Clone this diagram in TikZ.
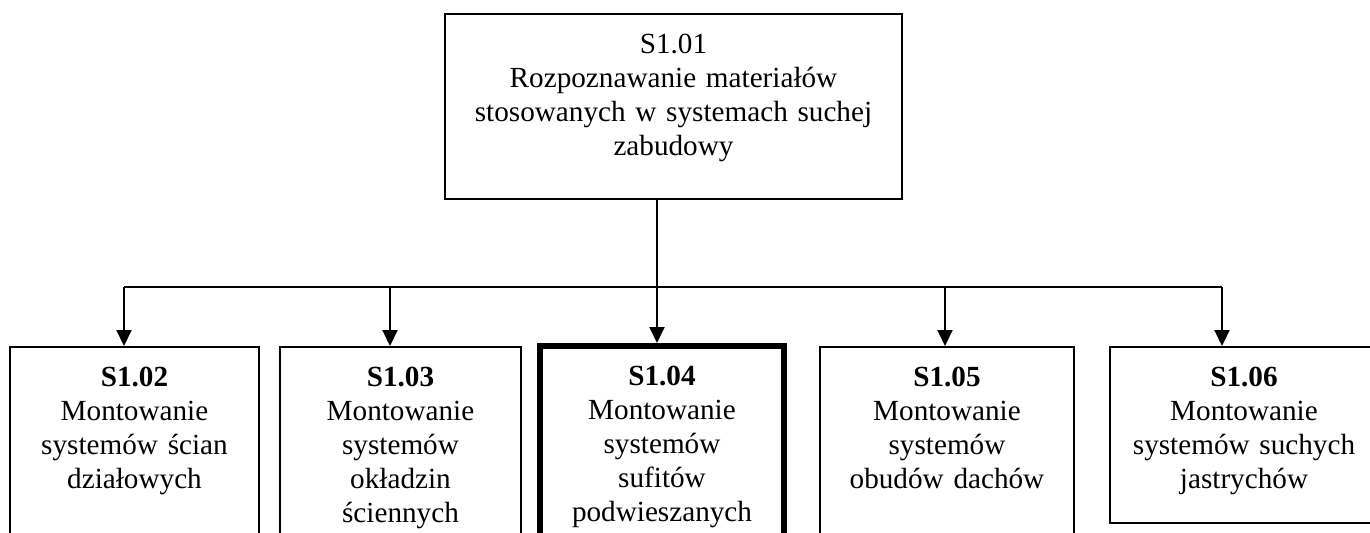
\documentclass[tikz,border=0pt]{standalone}
\usepackage{fontspec}
\setmainfont{Liberation Serif}
\usetikzlibrary{arrows.meta}

\begin{document}
\begin{tikzpicture}[x=0.5pt, y=-0.5pt,
  block/.style={rectangle, draw, line width=1pt, inner sep=0pt, anchor=north, align=center, text height=19.5pt, font=\fontsize{14.6}{17}\selectfont},
  unit/.style={block, text depth=79.5pt},
  link/.style={line width=1pt, -{Triangle[width=7.5pt, length=8pt]}}]
  \clip (0,0) rectangle (1370,532);

    \node[block, text width=228.5pt, text depth=73pt] (s101) at (673.5,13) {S1.01\\Rozpoznawanie materiałów\\stosowanych w systemach suchej\\zabudowy};

    \node[unit, text width=124.5pt] (s102) at (134.5,346) {\textbf{S1.02}\\Montowanie\\systemów ścian\\działowych};
    \node[unit, text width=120.5pt] (s103) at (400.5,346) {\textbf{S1.03}\\Montowanie\\systemów\\okładzin\\ściennych};
    \node[unit, text width=122pt, line width=3pt] (s104) at (662,343) {\textbf{S1.04}\\Montowanie\\systemów\\sufitów\\podwieszanych};
    \node[unit, text width=127pt] (s105) at (947,346) {\textbf{S1.05}\\Montowanie\\systemów\\obudów dachów};
    \node[block, text width=134pt, text depth=68.5pt] (s106) at (1244,346) {\textbf{S1.06}\\Montowanie\\systemów suchych\\jastrychów};

    % szyna rozdzielcza
    \coordinate (fork) at (657,287);
    \coordinate (j2) at (124,287);
    \coordinate (j3) at (390,287);
    \coordinate (j4) at (657,287);
    \coordinate (j5) at (945,287);
    \coordinate (j6) at (1222,287);

    \draw[line width=1pt] (fork |- s101.south) -- (fork);
    \draw[line width=1pt] (j2) -- (j6);

    \draw[link] (j2) -- (j2 |- s102.north);
    \draw[link] (j3) -- (j3 |- s103.north);
    \draw[link] (j4) -- (j4 |- s104.north);
    \draw[link] (j5) -- (j5 |- s105.north);
    \draw[link] (j6) -- (j6 |- s106.north);

\end{tikzpicture}
\end{document}
